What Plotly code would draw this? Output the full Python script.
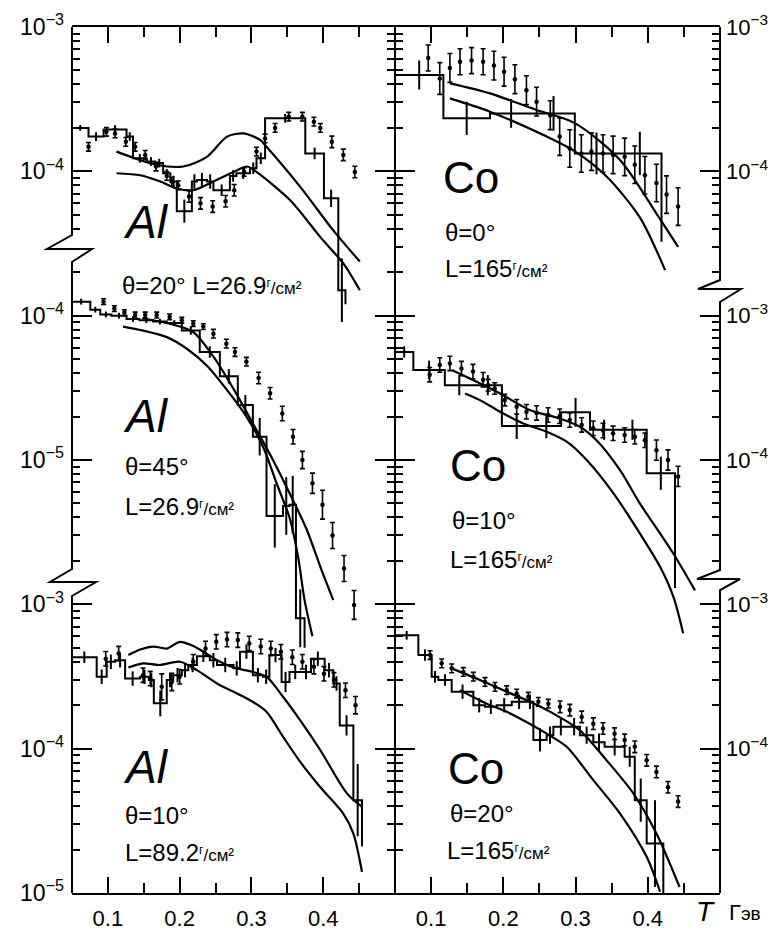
import plotly.graph_objects as go

FONT = "Liberation Sans, Arial, sans-serif"

# ================= DATA =================
# --- Al, theta=20, L=26.9 (left, top) ---
a1_edges = [0.050, 0.073, 0.094, 0.126, 0.135, 0.154, 0.166, 0.177, 0.187, 0.196, 0.217, 0.224,
            0.238, 0.247, 0.270, 0.279, 0.298, 0.307, 0.319, 0.375, 0.401, 0.421, 0.431]
a1_vals = [2.0e-4, 1.74e-4, 1.95e-4, 1.74e-4, 1.23e-4, 1.17e-4, 1.14e-4, 9.7e-5, 8.5e-5, 5.3e-5, 8.5e-5,
           8.7e-5, 8.5e-5, 7.4e-5, 9.3e-5, 9.7e-5, 1.05e-4, 1.23e-4, 2.33e-4, 1.33e-4, 6.5e-5, 1.5e-5]
a1_herr = [0.02, 0.03, 0.03, 0.03, 0.03, 0.03, 0.03, 0.03, 0.04, 0.08, 0.05, 0.05, 0.05, 0.04, 0.04,
           0.04, 0.04, 0.04, 0.03, 0.04, 0.06, 0.22]
a1_floor = 1.2e-5
a1_px = [0.073, 0.098, 0.110, 0.125, 0.138, 0.152, 0.167, 0.182, 0.189, 0.198, 0.213, 0.229, 0.246,
         0.264, 0.276, 0.290, 0.307, 0.319, 0.333, 0.352, 0.371, 0.387, 0.396, 0.412, 0.428, 0.444]
a1_py = [1.48e-4, 1.88e-4, 1.83e-4, 1.60e-4, 1.48e-4, 1.30e-4, 1.08e-4, 9.3e-5, 8.5e-5, 8.0e-5, 6.7e-5,
         6.0e-5, 5.7e-5, 6.2e-5, 7.4e-5, 9.9e-5, 1.37e-4, 1.69e-4, 2.0e-4, 2.39e-4, 2.39e-4, 2.21e-4,
         2.0e-4, 1.60e-4, 1.30e-4, 9.9e-5]
a1_perr = [0.03, 0.03, 0.03, 0.03, 0.03, 0.03, 0.03, 0.03, 0.03, 0.03, 0.04, 0.04, 0.04, 0.04, 0.04,
           0.03, 0.03, 0.03, 0.03, 0.03, 0.03, 0.03, 0.03, 0.04, 0.04, 0.04]
a1_c1_x = [0.112, 0.168, 0.205, 0.238, 0.266, 0.289, 0.312, 0.321, 0.368, 0.414, 0.451]
a1_c1_y = [1.37e-4, 1.11e-4, 1.08e-4, 1.26e-4, 1.74e-4, 1.83e-4, 1.65e-4, 1.48e-4, 7.8e-5, 3.9e-5, 2.37e-5]
a1_c2_x = [0.112, 0.145, 0.173, 0.196, 0.219, 0.247, 0.275, 0.294, 0.307, 0.354, 0.396, 0.428, 0.451]
a1_c2_y = [9.7e-5, 9.4e-5, 8.5e-5, 7.6e-5, 7.4e-5, 8.5e-5, 9.9e-5, 1.08e-4, 9.9e-5, 6.3e-5, 3.5e-5,
           2.3e-5, 1.5e-5]

# --- Co, theta=0, L=165 (right, top) ---
b1_edges = [0.05, 0.117, 0.1815, 0.240, 0.299, 0.359, 0.419]
b1_vals = [4.65e-4, 2.33e-4, 2.52e-4, 2.52e-4, 1.33e-4, 1.33e-4]
b1_herr = [0.10, 0.115, 0.10, 0.12, 0.145, 0.15]
b1_floor = 3.25e-5
b1_px = [0.096, 0.112, 0.126, 0.140, 0.156, 0.172, 0.187, 0.201, 0.216, 0.232, 0.246, 0.265, 0.278,
         0.292, 0.308, 0.322, 0.338, 0.352, 0.368, 0.382, 0.396, 0.412, 0.426, 0.442]
b1_py = [6.1e-4, 4.4e-4, 5.2e-4, 5.75e-4, 5.85e-4, 5.75e-4, 5.4e-4, 4.9e-4, 4.35e-4, 3.65e-4, 3.04e-4,
         2.45e-4, 1.74e-4, 1.44e-4, 1.33e-4, 1.37e-4, 1.33e-4, 1.30e-4, 1.26e-4, 1.11e-4, 9.4e-5,
         8.3e-5, 6.9e-5, 5.7e-5]
b1_perr = [0.09, 0.11, 0.10, 0.09, 0.09, 0.09, 0.10, 0.10, 0.10, 0.10, 0.10, 0.10, 0.13, 0.13, 0.13,
           0.13, 0.13, 0.13, 0.13, 0.13, 0.13, 0.13, 0.13, 0.13]
b1_c1_x = [0.126, 0.1815, 0.246, 0.2996, 0.3616, 0.412, 0.442]
b1_c1_y = [4.07e-4, 3.47e-4, 2.66e-4, 2.15e-4, 1.20e-4, 5.1e-5, 3.0e-5]
b1_c2_x = [0.126, 0.1815, 0.260, 0.2996, 0.343, 0.389, 0.424]
b1_c2_y = [3.2e-4, 2.59e-4, 1.74e-4, 1.37e-4, 9.2e-5, 4.8e-5, 2.07e-5]

# --- Al, theta=45, L=26.9 (left, middle) ---
a2_edges = [0.05, 0.0755, 0.0894, 0.105, 0.126, 0.144, 0.163, 0.182, 0.203, 0.228, 0.256, 0.281,
            0.302, 0.321, 0.344, 0.353, 0.362, 0.374]
a2_vals = [1.25e-4, 1.10e-4, 1.02e-4, 1.0e-4, 9.5e-5, 9.3e-5, 9.1e-5, 8.9e-5, 7.9e-5, 5.6e-5, 3.8e-5,
           2.4e-5, 1.45e-5, 4.1e-6, 4.8e-6, 4.9e-6, 8.0e-7]
a2_herr = [0.02, 0.02, 0.02, 0.02, 0.02, 0.02, 0.02, 0.02, 0.03, 0.04, 0.05, 0.07, 0.13, 0.22, 0.20,
           0.20, 0.20]
a2_floor = 5.0e-7
a2_px = [0.094, 0.109, 0.123, 0.138, 0.152, 0.168, 0.186, 0.203, 0.219, 0.233, 0.247, 0.265, 0.277,
         0.293, 0.310, 0.326, 0.343, 0.358, 0.371, 0.385, 0.399, 0.413, 0.429, 0.443]
a2_py = [1.25e-4, 1.12e-4, 1.05e-4, 1.01e-4, 1.01e-4, 1.01e-4, 9.8e-5, 9.3e-5, 8.8e-5, 8.4e-5, 7.5e-5,
         6.4e-5, 5.6e-5, 4.8e-5, 3.7e-5, 2.9e-5, 2.1e-5, 1.45e-5, 1.0e-5, 6.9e-6, 4.9e-6, 3.0e-6,
         1.77e-6, 9.9e-7]
a2_perr = [0.02, 0.02, 0.02, 0.02, 0.02, 0.02, 0.02, 0.02, 0.02, 0.02, 0.03, 0.03, 0.03, 0.03, 0.04,
           0.04, 0.05, 0.05, 0.06, 0.07, 0.10, 0.09, 0.09, 0.10]
a2_c1_x = [0.148, 0.186, 0.219, 0.247, 0.276, 0.302, 0.330, 0.353, 0.377, 0.396, 0.414]
a2_c1_y = [9.6e-5, 8.8e-5, 7.7e-5, 5.2e-5, 3.05e-5, 1.79e-5, 1.0e-5, 5.9e-6, 3.3e-6, 1.82e-6, 1.07e-6]
a2_c2_x = [0.121, 0.148, 0.182, 0.210, 0.238, 0.265, 0.293, 0.316, 0.335, 0.353, 0.365, 0.374, 0.385]
a2_c2_y = [8.4e-5, 7.9e-5, 7.1e-5, 5.9e-5, 4.5e-5, 3.1e-5, 2.0e-5, 1.24e-5, 6.9e-6, 4.0e-6, 2.13e-6,
           1.07e-6, 6.0e-7]

# --- Co, theta=10, L=165 (right, middle) ---
b2_edges = [0.05, 0.0754, 0.119, 0.159, 0.198, 0.239, 0.280, 0.320, 0.359, 0.3985, 0.4377]
b2_vals = [5.6e-4, 4.2e-4, 3.3e-4, 3.3e-4, 1.72e-4, 1.72e-4, 2.14e-4, 1.62e-4, 1.62e-4, 8.1e-5]
b2_herr = [0.04, 0.065, 0.07, 0.07, 0.09, 0.085, 0.10, 0.07, 0.07, 0.115]
b2_floor = 1.3e-5
b2_px = [0.098, 0.112, 0.126, 0.142, 0.158, 0.172, 0.179, 0.188, 0.202, 0.2185, 0.232, 0.246, 0.262,
         0.278, 0.292, 0.3085, 0.3245, 0.338, 0.352, 0.368, 0.382, 0.396, 0.412, 0.428, 0.442]
b2_py = [3.9e-4, 4.55e-4, 4.67e-4, 4.3e-4, 4.1e-4, 3.6e-4, 3.3e-4, 3.13e-4, 2.6e-4, 2.34e-4, 2.16e-4,
         2.12e-4, 2.05e-4, 2.01e-4, 1.89e-4, 1.75e-4, 1.66e-4, 1.60e-4, 1.53e-4, 1.49e-4, 1.45e-4,
         1.37e-4, 1.17e-4, 1.0e-4, 7.7e-5]
b2_perr = [0.05, 0.05, 0.05, 0.05, 0.05, 0.05, 0.04, 0.04, 0.04, 0.05, 0.05, 0.05, 0.05, 0.05, 0.05,
           0.05, 0.05, 0.05, 0.05, 0.05, 0.05, 0.05, 0.07, 0.07, 0.07]
b2_c1_x = [0.1285, 0.158, 0.1954, 0.2365, 0.278, 0.306, 0.329, 0.3616, 0.389, 0.417, 0.4354, 0.4654]
b2_c1_y = [4.2e-4, 3.58e-4, 2.89e-4, 2.22e-4, 1.94e-4, 1.70e-4, 1.37e-4, 8.5e-5, 5.0e-5, 3.1e-5,
           2.25e-5, 1.25e-5]
b2_c2_x = [0.147, 0.1677, 0.1954, 0.2277, 0.260, 0.2877, 0.3154, 0.3523, 0.389, 0.417, 0.4354, 0.449]
b2_c2_y = [2.89e-4, 2.6e-4, 2.16e-4, 1.79e-4, 1.57e-4, 1.34e-4, 1.0e-4, 5.9e-5, 3.1e-5, 1.82e-5,
           1.13e-5, 6.3e-6]

# --- Al, theta=10, L=89.2 (left, bottom) ---
a3_edges = [0.05, 0.0844, 0.0983, 0.110, 0.124, 0.145, 0.157, 0.164, 0.182, 0.191, 0.203, 0.212,
            0.224, 0.242, 0.252, 0.275, 0.284, 0.302, 0.316, 0.325, 0.342, 0.353, 0.369, 0.383,
            0.402, 0.414, 0.423, 0.442, 0.454]
a3_vals = [4.3e-4, 3.15e-4, 4.0e-4, 4.1e-4, 3.06e-4, 3.15e-4, 2.99e-4, 2.06e-4, 2.99e-4, 3.23e-4,
           3.5e-4, 3.8e-4, 4.37e-4, 4.1e-4, 3.8e-4, 3.6e-4, 4.7e-4, 3.23e-4, 3.15e-4, 4.45e-4,
           2.9e-4, 3.4e-4, 3.4e-4, 4.2e-4, 3.5e-4, 2.83e-4, 1.45e-4, 4.4e-5]
a3_herr = [0.04, 0.05, 0.05, 0.05, 0.05, 0.05, 0.05, 0.09, 0.05, 0.05, 0.05, 0.05, 0.04, 0.05, 0.05,
           0.05, 0.05, 0.05, 0.05, 0.05, 0.07, 0.05, 0.05, 0.05, 0.05, 0.05, 0.07, 0.25]
a3_floor = 2.1e-5
a3_px = [0.097, 0.115, 0.149, 0.159, 0.175, 0.189, 0.200, 0.219, 0.236, 0.251, 0.266, 0.281, 0.297,
         0.313, 0.327, 0.341, 0.357, 0.371, 0.387, 0.401, 0.415, 0.431, 0.445]
a3_py = [4.2e-4, 4.56e-4, 3.23e-4, 3.06e-4, 2.68e-4, 2.9e-4, 3.15e-4, 4.0e-4, 4.94e-4, 5.5e-4, 5.7e-4,
         5.65e-4, 5.36e-4, 5.1e-4, 4.94e-4, 4.7e-4, 4.3e-4, 4.0e-4, 3.7e-4, 3.3e-4, 3.0e-4, 2.54e-4,
         2.0e-4]
a3_perr = [0.05, 0.05, 0.05, 0.05, 0.09, 0.06, 0.05, 0.05, 0.05, 0.05, 0.05, 0.05, 0.05, 0.05, 0.05,
           0.05, 0.05, 0.05, 0.05, 0.05, 0.05, 0.05, 0.06]
a3_c1_x = [0.1286, 0.145, 0.164, 0.182, 0.2005, 0.2167, 0.233, 0.252, 0.275, 0.302, 0.321, 0.344,
           0.368, 0.396, 0.433, 0.454]
a3_c1_y = [4.45e-4, 4.86e-4, 5.1e-4, 4.94e-4, 5.5e-4, 5.2e-4, 4.7e-4, 4.1e-4, 3.65e-4, 3.4e-4, 3.15e-4,
           2.29e-4, 1.57e-4, 9.75e-5, 4.9e-5, 3.95e-5]
a3_c2_x = [0.1286, 0.149, 0.172, 0.2005, 0.224, 0.252, 0.280, 0.302, 0.321, 0.344, 0.368, 0.396,
           0.428, 0.442, 0.454]
a3_c2_y = [3.65e-4, 3.9e-4, 3.8e-4, 4.0e-4, 3.5e-4, 2.83e-4, 2.41e-4, 2.11e-4, 1.8e-4, 1.21e-4, 8.1e-5,
           5.4e-5, 3.55e-5, 2.58e-5, 1.4e-5]

# --- Co, theta=20, L=165 (right, bottom) ---
b3_edges = [0.05, 0.0823, 0.1008, 0.110, 0.1285, 0.1585, 0.1746, 0.1908, 0.2116, 0.232, 0.2416,
            0.260, 0.2693, 0.290, 0.306, 0.3246, 0.3403, 0.368, 0.382, 0.3985, 0.4215]
b3_vals = [6.1e-4, 4.45e-4, 3.15e-4, 2.99e-4, 2.48e-4, 2.0e-4, 1.95e-4, 2.0e-4, 2.11e-4, 2.11e-4,
           1.15e-4, 1.24e-4, 1.42e-4, 1.42e-4, 1.24e-4, 1.11e-4, 1.03e-4, 8.8e-5, 4.4e-5, 2.2e-5]
b3_herr = [0.03, 0.04, 0.04, 0.04, 0.05, 0.05, 0.05, 0.05, 0.05, 0.05, 0.08, 0.06, 0.06, 0.06, 0.06,
           0.06, 0.06, 0.07, 0.15, 0.30]
b3_floor = 1.0e-5
b3_px = [0.0985, 0.1146, 0.1285, 0.1446, 0.1585, 0.1746, 0.1885, 0.2046, 0.2185, 0.2346, 0.2485,
         0.2623, 0.2785, 0.292, 0.3085, 0.3246, 0.338, 0.354, 0.368, 0.382, 0.3985, 0.412, 0.428, 0.442]
b3_py = [4.45e-4, 3.9e-4, 3.6e-4, 3.4e-4, 3.15e-4, 2.9e-4, 2.68e-4, 2.54e-4, 2.41e-4, 2.29e-4, 2.11e-4,
         2.05e-4, 1.95e-4, 1.85e-4, 1.66e-4, 1.49e-4, 1.38e-4, 1.27e-4, 1.15e-4, 1.03e-4, 8.3e-5,
         6.9e-5, 5.4e-5, 4.3e-5]
b3_perr = [0.03, 0.03, 0.03, 0.03, 0.03, 0.03, 0.03, 0.03, 0.03, 0.03, 0.03, 0.03, 0.04, 0.04, 0.04,
           0.04, 0.04, 0.04, 0.04, 0.04, 0.04, 0.04, 0.04, 0.04]
b3_c1_x = [0.1285, 0.1677, 0.2046, 0.237, 0.2693, 0.306, 0.343, 0.380, 0.412, 0.444]
b3_c1_y = [3.6e-4, 2.99e-4, 2.48e-4, 2.11e-4, 1.75e-4, 1.34e-4, 8.3e-5, 4.9e-5, 2.58e-5, 1.1e-5]
b3_c2_x = [0.140, 0.177, 0.2046, 0.232, 0.260, 0.2877, 0.3246, 0.3616, 0.3985, 0.417]
b3_c2_y = [2.54e-4, 2.05e-4, 1.8e-4, 1.53e-4, 1.27e-4, 1.03e-4, 6.05e-5, 3.55e-5, 1.78e-5, 1.02e-5]

x_major = [0.1, 0.2, 0.3, 0.4]
x_major_text = ["0.1", "0.2", "0.3", "0.4"]
x_minor = [0.15, 0.25, 0.35, 0.45]

# ================= FIGURE =================
# the page body adds an 8 px margin, so the figure is laid out 8 px smaller
OFF = 8
W, H = 779 - OFF, 932 - OFF
L, T = 72 - OFF, 27 - OFF
R = W - (720 - OFF)
B = H - (893 - OFF)
PW, PH = W - L - R, H - T - B
MID = 395


def pxx(p):
    return (p - OFF - L) / PW


def pxy(p):
    return (H - B - (p - OFF)) / PH


DM = pxx(MID)
BLACK = "black"

panels = [
    dict(xa="x", ya="y", e=a1_edges, v=a1_vals, he=a1_herr, fl=a1_floor, px=a1_px, py=a1_py, pe=a1_perr,
         curves=[(a1_c1_x, a1_c1_y), (a1_c2_x, a1_c2_y)]),
    dict(xa="x", ya="y2", e=a2_edges, v=a2_vals, he=a2_herr, fl=a2_floor, px=a2_px, py=a2_py, pe=a2_perr,
         curves=[(a2_c1_x, a2_c1_y), (a2_c2_x, a2_c2_y)]),
    dict(xa="x", ya="y3", e=a3_edges, v=a3_vals, he=a3_herr, fl=a3_floor, px=a3_px, py=a3_py, pe=a3_perr,
         curves=[(a3_c1_x, a3_c1_y), (a3_c2_x, a3_c2_y)]),
    dict(xa="x2", ya="y4", e=b1_edges, v=b1_vals, he=b1_herr, fl=b1_floor, px=b1_px, py=b1_py, pe=b1_perr,
         curves=[(b1_c1_x, b1_c1_y), (b1_c2_x, b1_c2_y)]),
    dict(xa="x2", ya="y5", e=b2_edges, v=b2_vals, he=b2_herr, fl=b2_floor, px=b2_px, py=b2_py, pe=b2_perr,
         curves=[(b2_c1_x, b2_c1_y), (b2_c2_x, b2_c2_y)]),
    dict(xa="x2", ya="y6", e=b3_edges, v=b3_vals, he=b3_herr, fl=b3_floor, px=b3_px, py=b3_py, pe=b3_perr,
         curves=[(b3_c1_x, b3_c1_y), (b3_c2_x, b3_c2_y)]),
]

fig = go.Figure()


def errs(vals, dex):
    plus = [v * (10 ** d - 1) for v, d in zip(vals, dex)]
    minus = [v * (1 - 10 ** (-d)) for v, d in zip(vals, dex)]
    return plus, minus


for p in panels:
    e, v = p["e"], p["v"]
    hx = list(e[:-1]) + [e[-1], e[-1]]
    hy = list(v) + [v[-1], p["fl"]]
    fig.add_trace(go.Scatter(x=hx, y=hy, mode="lines", line=dict(color=BLACK, width=2, shape="hv"),
                             xaxis=p["xa"], yaxis=p["ya"], showlegend=False, hoverinfo="skip"))
    cx = [(e[i] + e[i + 1]) / 2 for i in range(len(v))]
    pl, mi = errs(v, p["he"])
    fig.add_trace(go.Scatter(x=cx, y=v, mode="markers", marker=dict(size=1, color=BLACK),
                             error_y=dict(type="data", array=pl, arrayminus=mi, color=BLACK, thickness=2, width=0),
                             xaxis=p["xa"], yaxis=p["ya"], showlegend=False, hoverinfo="skip"))
    for (cxs, cys) in p["curves"]:
        fig.add_trace(go.Scatter(x=cxs, y=cys, mode="lines",
                                 line=dict(color=BLACK, width=2.2, shape="spline", smoothing=0.8),
                                 xaxis=p["xa"], yaxis=p["ya"], showlegend=False, hoverinfo="skip"))
    pl, mi = errs(p["py"], p["pe"])
    fig.add_trace(go.Scatter(x=p["px"], y=p["py"], mode="markers", marker=dict(size=4.5, color=BLACK),
                             error_y=dict(type="data", array=pl, arrayminus=mi, color=BLACK, thickness=1.6, width=2.5),
                             xaxis=p["xa"], yaxis=p["ya"], showlegend=False, hoverinfo="skip"))


def sup(e):
    return "10<sup>\u2212%d</sup>" % e


def minor_vals(lo, hi):
    out = []
    for ex in range(-8, 1):
        for m in range(2, 10):
            val = m * 10.0 ** ex
            if lo <= val <= hi:
                out.append(val)
    return out


def ycfg(rng, majors, labels, lo, hi, side, anchor, overlay=None):
    d = dict(type="log", range=rng, side=side, anchor=anchor, showline=False, showgrid=False,
             zeroline=False, tickmode="array", tickvals=majors, ticktext=labels, ticks="inside",
             ticklen=20, tickwidth=2, tickcolor=BLACK, mirror="ticks", automargin=False,
             minor=dict(tickmode="array", tickvals=minor_vals(lo, hi), ticks="inside", ticklen=8,
                        tickwidth=2, tickcolor=BLACK, showgrid=False),
             tickfont=dict(family=FONT, size=23 if side == "left" else 22, color=BLACK),
             ticklabelstandoff=7 if side == "left" else 5)
    if overlay:
        d["overlaying"] = overlay
    else:
        d["domain"] = [0, 1]
    return d


def xcfg(dom, anchor):
    return dict(domain=dom, range=[0.05, 0.5], anchor=anchor, showline=True, linewidth=2, linecolor=BLACK,
                mirror="ticks", ticks="inside", ticklen=16, tickwidth=2, tickcolor=BLACK, automargin=False,
                tickmode="array", tickvals=x_major, ticktext=x_major_text,
                minor=dict(tickmode="array", tickvals=x_minor, ticks="inside", ticklen=10, tickwidth=2,
                           tickcolor=BLACK, showgrid=False),
                showgrid=False, zeroline=False, tickfont=dict(family=FONT, size=22, color=BLACK),
                ticklabelstandoff=5)


fig.update_layout(
    width=W, height=H, margin=dict(l=L, r=R, t=T, b=B, autoexpand=False),
    paper_bgcolor="white", plot_bgcolor="rgba(0,0,0,0)",
    xaxis=xcfg([0, DM], "y"),
    xaxis2=xcfg([DM, 1], "y4"),
    yaxis=ycfg([-9, -3], [1e-3, 1e-4], [sup(3), sup(4)], 3.7e-5, 1.01e-3, "left", "x"),
    yaxis2=ycfg([-8, -2], [1e-4, 1e-5], [sup(4), sup(5)], 1.8e-6, 2.3e-4, "left", "x", "y"),
    yaxis3=ycfg([-5, 1], [1e-3, 1e-4, 1e-5], [sup(3), sup(4), sup(5)], 1e-5, 1.05e-3, "left", "x", "y"),
    yaxis4=ycfg([-9, -3], [1e-3, 1e-4], [sup(3), sup(4)], 1.8e-5, 1.01e-3, "right", "x2"),
    yaxis5=ycfg([-7, -1], [1e-3, 1e-4], [sup(3), sup(4)], 1.8e-5, 1.05e-3, "right", "x2", "y4"),
    yaxis6=ycfg([-5, 1], [1e-3, 1e-4, 1e-5], [sup(3), sup(4), ""], 1e-5, 1.05e-3, "right", "x2", "y4"),
)


def path(points):
    s = "M %f %f" % (pxx(points[0][0]), pxy(points[0][1]))
    for (a, b) in points[1:]:
        s += " L %f %f" % (pxx(a), pxy(b))
    return s


left_axis = [(72, 27), (72, 235), (47, 249), (92, 249), (72, 262), (72, 569), (50, 582), (96, 582),
             (72, 596), (72, 893)]
right_axis = [(720, 27), (720, 280), (698, 289), (741, 289), (720, 302), (720, 570), (697, 579),
              (740, 579), (720, 590), (720, 893)]
mid_axis = [(MID, 27), (MID, 893)]
for pts in (left_axis, right_axis, mid_axis):
    fig.add_shape(type="path", path=path(pts), xref="paper", yref="paper",
                  line=dict(color=BLACK, width=2))


def ann(text, x, y, size, italic=False):
    fig.add_annotation(text=("<i>%s</i>" % text) if italic else text, x=pxx(x), y=pxy(y),
                       xref="paper", yref="paper", xanchor="left", yanchor="middle", showarrow=False,
                       font=dict(family=FONT, size=size, color=BLACK))


U = "<span style='font-size:17px'><sup>г</sup>/см²</span>"
ann("Al", 121, 222, 46, True)
ann("θ=20° L=26.9" + U, 120, 285, 24)
ann("Co", 441, 177, 44)
ann("θ=0°", 443, 233, 24)
ann("L=165" + U, 443, 268, 24)
ann("Al", 121, 416, 46, True)
ann("θ=45°", 123, 467, 24)
ann("L=26.9" + U, 123, 507, 24)
ann("Co", 448, 465, 44)
ann("θ=10°", 450, 520, 24)
ann("L=165" + U, 448, 560, 24)
ann("Al", 121, 767, 46, True)
ann("θ=10°", 123, 815, 24)
ann("L=89.2" + U, 123, 852, 24)
ann("Co", 446, 768, 44)
ann("θ=20°", 448, 813, 24)
ann("L=165" + U, 445, 850, 24)
ann("<i>T</i>", 694, 911, 28)
ann("Г<span style='font-size:19px'>эв</span>", 727, 913, 22)

fig.write_html("out.html")
